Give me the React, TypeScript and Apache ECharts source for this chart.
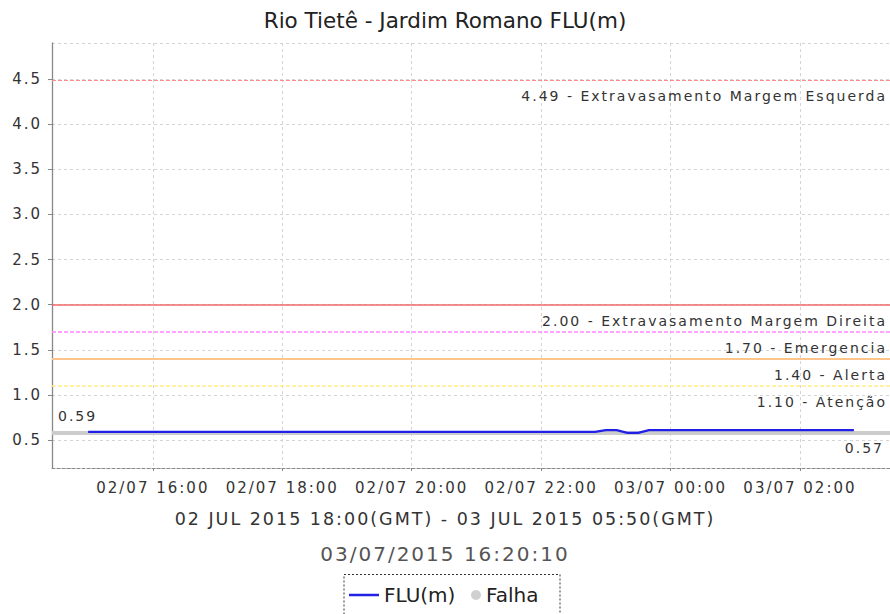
import React, { useEffect, useRef } from 'react';
import * as echarts from 'echarts';

const TITLE = 'Rio Tietê - Jardim Romano FLU(m)';
const PERIOD = '02 JUL 2015 18:00(GMT) - 03 JUL 2015 05:50(GMT)';
const GENERATED = '03/07/2015 16:20:10';

const SERIES_NAME = 'FLU(m)';
const FAIL_NAME = 'Falha';

// local time (GMT-3), 10 minute readings
const times = [
  '02/07 15:00', '02/07 15:10', '02/07 15:20', '02/07 15:30', '02/07 15:40', '02/07 15:50',
  '02/07 16:00', '02/07 16:10', '02/07 16:20', '02/07 16:30', '02/07 16:40', '02/07 16:50',
  '02/07 17:00', '02/07 17:10', '02/07 17:20', '02/07 17:30', '02/07 17:40', '02/07 17:50',
  '02/07 18:00', '02/07 18:10', '02/07 18:20', '02/07 18:30', '02/07 18:40', '02/07 18:50',
  '02/07 19:00', '02/07 19:10', '02/07 19:20', '02/07 19:30', '02/07 19:40', '02/07 19:50',
  '02/07 20:00', '02/07 20:10', '02/07 20:20', '02/07 20:30', '02/07 20:40', '02/07 20:50',
  '02/07 21:00', '02/07 21:10', '02/07 21:20', '02/07 21:30', '02/07 21:40', '02/07 21:50',
  '02/07 22:00', '02/07 22:10', '02/07 22:20', '02/07 22:30', '02/07 22:40', '02/07 22:50',
  '02/07 23:00', '02/07 23:10', '02/07 23:20', '02/07 23:30', '02/07 23:40', '02/07 23:50',
  '03/07 00:00', '03/07 00:10', '03/07 00:20', '03/07 00:30', '03/07 00:40', '03/07 00:50',
  '03/07 01:00', '03/07 01:10', '03/07 01:20', '03/07 01:30', '03/07 01:40', '03/07 01:50',
  '03/07 02:00', '03/07 02:10', '03/07 02:20', '03/07 02:30', '03/07 02:40', '03/07 02:50',
];

const levels = [
  0.59, 0.59, 0.59, 0.59, 0.59, 0.59,
  0.59, 0.59, 0.59, 0.59, 0.59, 0.59,
  0.59, 0.59, 0.59, 0.59, 0.59, 0.59,
  0.59, 0.59, 0.59, 0.59, 0.59, 0.59,
  0.59, 0.59, 0.59, 0.59, 0.59, 0.59,
  0.59, 0.59, 0.59, 0.59, 0.59, 0.59,
  0.59, 0.59, 0.59, 0.59, 0.59, 0.59,
  0.59, 0.59, 0.59, 0.59, 0.59, 0.59,
  0.61, 0.61, 0.58, 0.58, 0.61, 0.61,
  0.61, 0.61, 0.61, 0.61, 0.61, 0.61,
  0.61, 0.61, 0.61, 0.61, 0.61, 0.61,
  0.61, 0.61, 0.61, 0.61, 0.61, 0.61,
];

const thresholdValues = [4.49, 2.0, 1.7, 1.4, 1.1];
const thresholdNames = [
  'Extravasamento Margem Esquerda',
  'Extravasamento Margem Direita',
  'Emergencia',
  'Alerta',
  'Atenção',
];

const MAX_LEVEL = 0.59;
const MIN_LEVEL = 0.57;

const Y_MIN = 0.19;
const Y_MAX = 4.9;
// hours counted from 02/07 00:00
const X_MIN = 14 + 26.5 / 60;
const X_MAX = 27 + 23.5 / 60;

function toHours(t: string): number {
  const [d, hm] = t.split(' ');
  const day = parseInt(d.split('/')[0], 10);
  const [h, m] = hm.split(':').map((s) => parseInt(s, 10));
  return (day - 2) * 24 + h + m / 60;
}

function fmtHour(v: number): string {
  const total = Math.round(v * 60);
  const dayIdx = Math.floor(total / 1440);
  const h = Math.floor((total % 1440) / 60);
  const m = total % 60;
  const day = dayIdx >= 1 ? '03/07' : '02/07';
  return `${day} ${String(h).padStart(2, '0')}:${String(m).padStart(2, '0')}`;
}

const SPACED = 'spaced, DejaVu Sans';
const PLAIN = 'DejaVu Sans';

export default function App() {
  const ref = useRef<HTMLDivElement>(null);

  useEffect(() => {
    if (!ref.current) return;
    const chart = echarts.init(ref.current, undefined, { renderer: 'svg' });

    const thresholdStyles = [
      { color: '#ff8c8c', width: 1, type: [4, 2] },
      { color: '#f06a6a', width: 1.5, type: 'solid' },
      { color: '#ff88ff', width: 1.5, type: [4, 2] },
      { color: '#ffc38c', width: 2, type: 'solid' },
      { color: '#ffee88', width: 1.5, type: [4, 2] },
    ];

    const gridLine = { color: '#d4d4d4', width: 1, type: [3, 3] };

    const option: any = {
      animation: false,
      backgroundColor: '#ffffff',
      textStyle: { fontFamily: PLAIN },
      title: [
        {
          text: TITLE, left: 'center', top: 9, padding: 0,
          textStyle: { fontSize: 21.5, fontWeight: 'normal', color: '#222', fontFamily: PLAIN },
        },
        {
          text: PERIOD, left: 'center', top: 510, padding: 0,
          textStyle: { fontSize: 17.5, fontWeight: 'normal', color: '#333', fontFamily: SPACED },
        },
        {
          text: GENERATED, left: 'center', top: 544, padding: 0,
          textStyle: { fontSize: 20, fontWeight: 'normal', color: '#555', fontFamily: SPACED },
        },
      ],
      legend: [
        {
          data: [SERIES_NAME], left: 349, top: 585, padding: 0, itemWidth: 30, itemHeight: 2.5,
          icon: 'rect', selectedMode: false,
          textStyle: { fontSize: 20, color: '#222', fontFamily: PLAIN },
        },
        {
          data: [FAIL_NAME], left: 471, top: 585, padding: 0, itemWidth: 10, itemHeight: 10,
          icon: 'circle', selectedMode: false,
          textStyle: { fontSize: 20, color: '#222', fontFamily: PLAIN },
        },
      ],
      grid: { left: 52, top: 43, right: -2, bottom: 146, containLabel: false },
      xAxis: {
        type: 'value', min: X_MIN, max: X_MAX, splitNumber: 6,
        axisLine: { onZero: false, lineStyle: { color: '#888', width: 1, type: [3, 2] } },
        axisTick: { show: true, length: 3, lineStyle: { color: '#888' } },
        axisLabel: {
          margin: 12, color: '#333', fontSize: 15, fontFamily: SPACED,
          showMinLabel: false, showMaxLabel: false, formatter: (v: number) => fmtHour(v),
        },
        splitLine: { show: true, lineStyle: gridLine },
      },
      yAxis: {
        type: 'value', min: Y_MIN, max: Y_MAX, splitNumber: 10,
        axisLine: { show: true, lineStyle: { color: '#888', width: 1.3 } },
        axisTick: { show: true, length: 4, lineStyle: { color: '#888' } },
        axisLabel: {
          margin: 10, color: '#333', fontSize: 15, fontFamily: SPACED,
          showMinLabel: false, showMaxLabel: false, formatter: (v: number) => v.toFixed(1),
        },
        splitLine: { show: true, lineStyle: gridLine },
      },
      series: [
        {
          name: SERIES_NAME,
          type: 'line',
          z: 3,
          data: times.map((t, i) => [toHours(t), levels[i]]),
          showSymbol: false,
          symbol: 'none',
          color: '#2020e6',
          lineStyle: { width: 2.2, color: '#2020e6' },
        },
        {
          name: FAIL_NAME,
          type: 'scatter',
          z: 1,
          data: [],
          color: '#c4c4c4',
          itemStyle: { color: '#c4c4c4' },
          markLine: {
            silent: true,
            z: 1,
            symbol: ['none', 'none'],
            label: { color: '#333', fontSize: 14, fontFamily: SPACED },
            data: [
              {
                yAxis: MAX_LEVEL,
                lineStyle: { color: '#cccccc', width: 2, type: 'solid' },
                label: { formatter: MAX_LEVEL.toFixed(2), position: 'insideStartTop', distance: [6, 9] },
              },
              {
                yAxis: MIN_LEVEL,
                lineStyle: { color: '#cccccc', width: 2, type: 'solid' },
                label: { formatter: MIN_LEVEL.toFixed(2), position: 'insideEndBottom', distance: [6, 7] },
              },
              ...thresholdValues.map((v, i) => ({
                yAxis: v,
                lineStyle: thresholdStyles[i],
                label: {
                  formatter: `${v.toFixed(2)} - ${thresholdNames[i]}`,
                  position: 'insideEndBottom',
                  distance: [3, 9],
                },
              })),
            ],
          },
        },
      ],
      graphic: [
        {
          type: 'rect',
          silent: true,
          shape: { x: 344, y: 574.5, width: 216, height: 60 },
          style: { fill: 'none', stroke: '#333', lineWidth: 1, lineDash: [2, 2] },
        },
      ],
    };

    chart.setOption(option);
    return () => chart.dispose();
  }, []);

  return (
    <>
      <style>{`text[style*="spaced"]{letter-spacing:2px;}`}</style>
      <div
        ref={ref}
        style={{ position: 'absolute', left: 0, top: 0, width: 890, height: 614, background: '#fff' }}
      />
    </>
  );
}
